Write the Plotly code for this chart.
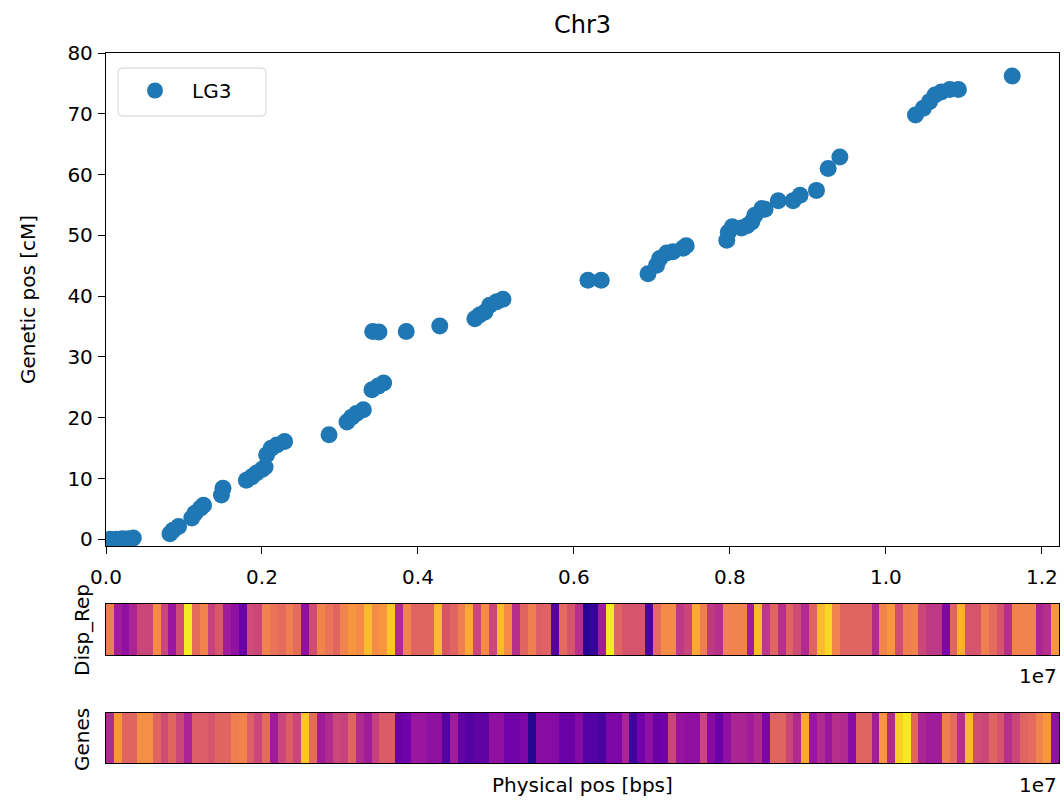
import plotly.graph_objects as go

# ---------------- data ----------------
chrom_length = 1.222e7  # bp, right end of the physical axis

lg3_phys_e7 = [0.005, 0.013, 0.021, 0.029, 0.035,
               0.082, 0.086, 0.093,
               0.110, 0.114, 0.121, 0.125,
               0.148, 0.150,
               0.180, 0.187, 0.193, 0.200, 0.204, 0.206, 0.212, 0.219, 0.229,
               0.286,
               0.309, 0.315, 0.321, 0.330,
               0.341, 0.349, 0.356,
               0.342, 0.350, 0.385,
               0.428,
               0.473, 0.479, 0.486, 0.492, 0.501, 0.509,
               0.618, 0.635,
               0.695, 0.706, 0.710, 0.719, 0.727, 0.740, 0.744,
               0.796, 0.798, 0.803, 0.815, 0.822, 0.828, 0.832, 0.841, 0.845,
               0.862, 0.881, 0.890, 0.911, 0.926, 0.941,
               1.038, 1.048, 1.056, 1.063, 1.071, 1.082, 1.093,
               1.162]
lg3_gen_cm = [0.0, 0.0, 0.1, 0.1, 0.2,
              0.9, 1.5, 2.1,
              3.5, 4.3, 5.1, 5.6,
              7.3, 8.4,
              9.7, 10.3, 10.9, 11.5, 11.9, 13.9, 15.0, 15.5, 16.1,
              17.2,
              19.3, 20.1, 20.7, 21.3,
              24.6, 25.2, 25.7,
              34.2, 34.1, 34.2,
              35.1,
              36.3, 36.9, 37.4, 38.5, 39.1, 39.5,
              42.6, 42.6,
              43.7, 45.1, 46.2, 47.1, 47.3, 47.9, 48.3,
              49.2, 50.5, 51.4, 51.2, 51.6, 52.2, 53.3, 54.4, 54.3,
              55.7, 55.7, 56.6, 57.4, 61.0, 62.9,
              69.8, 70.9, 72.0, 73.1, 73.6, 74.0, 74.0,
              76.2]

disp_rep = [0.68, 0.35, 0.30, 0.38, 0.50, 0.50, 0.72, 0.50, 0.33, 0.52,
            0.97, 0.62, 0.70, 0.48, 0.56, 0.35, 0.30, 0.20, 0.52, 0.50,
            0.70, 0.65, 0.62, 0.68, 0.62, 0.30, 0.52, 0.70, 0.65, 0.60,
            0.70, 0.75, 0.72, 0.85, 0.72, 0.75, 0.88, 0.40, 0.70, 0.60,
            0.60,
            0.60, 0.85, 0.55, 0.60, 0.68, 0.80, 0.50, 0.72, 0.50, 0.85,
            0.72, 0.42, 0.60, 0.68, 0.58, 0.60, 0.15, 0.62, 0.55, 0.42,
            0.05, 0.08, 0.35, 0.97, 0.60, 0.55, 0.55, 0.55, 0.12, 0.62,
            0.72, 0.72, 0.45, 0.50, 0.80, 0.68, 0.45, 0.42, 0.70, 0.70,
            0.70,
            0.35, 0.85, 0.45, 0.60, 0.42, 0.60, 0.52, 0.40, 0.60, 0.85,
            0.92, 0.70, 0.60, 0.60, 0.60, 0.60, 0.40, 0.70, 0.75, 0.52,
            0.68, 0.70, 0.50, 0.45, 0.45, 0.25, 0.60, 0.82, 0.55, 0.55,
            0.68, 0.62, 0.55, 0.42, 0.70, 0.70, 0.70, 0.38, 0.42, 0.75]

genes = [0.40, 0.75, 0.60, 0.60, 0.73, 0.73, 0.60, 0.52, 0.60, 0.50,
         0.38, 0.58, 0.58, 0.55, 0.60, 0.60, 0.68, 0.70, 0.58, 0.50,
         0.62, 0.35, 0.50, 0.58, 0.50, 0.88, 0.62, 0.35, 0.40, 0.50,
         0.48, 0.60, 0.40, 0.35, 0.48, 0.57, 0.57, 0.20, 0.22, 0.33,
         0.33,
         0.30, 0.30, 0.15, 0.35, 0.18, 0.15, 0.18, 0.18, 0.30, 0.30,
         0.22, 0.22, 0.25, 0.05, 0.28, 0.28, 0.28, 0.20, 0.20, 0.27,
         0.15, 0.15, 0.12, 0.25, 0.25, 0.38, 0.10, 0.22, 0.30, 0.20,
         0.22, 0.50, 0.32, 0.30, 0.30, 0.50, 0.28, 0.20, 0.30, 0.38,
         0.38,
         0.35, 0.40, 0.25, 0.60, 0.60, 0.50, 0.40, 0.80, 0.33, 0.40,
         0.33, 0.42, 0.40, 0.28, 0.60, 0.60, 0.35, 0.75, 0.40, 0.90,
         0.97, 0.60, 0.38, 0.35, 0.35, 0.68, 0.62, 0.42, 0.85, 0.52,
         0.50, 0.60, 0.55, 0.42, 0.50, 0.60, 0.62, 0.70, 0.75, 0.30]

x_tick_values_e7 = [0.0, 0.2, 0.4, 0.6, 0.8, 1.0, 1.2]
x_tick_labels = ["0.0", "0.2", "0.4", "0.6", "0.8", "1.0", "1.2"]
y_tick_values = [0, 10, 20, 30, 40, 50, 60, 70, 80]

# ---------------- figure ----------------
W, H = 1064, 805
FONT = "DejaVu Sans"
BLUE = "#1f77b4"


def px_x(p):
    return p / W


def px_y(p):
    return 1 - p / H


fig = go.Figure()

fig.add_trace(go.Scatter(
    x=[v * 1e7 for v in lg3_phys_e7], y=lg3_gen_cm, mode="markers",
    name="LG3", marker=dict(color=BLUE, size=17, line=dict(width=0)),
    xaxis="x", yaxis="y"))

bin_size = chrom_length / len(disp_rep)
fig.add_trace(go.Heatmap(
    z=[disp_rep], x0=bin_size / 2, dx=bin_size, y=[0],
    colorscale="Plasma", zmin=0, zmax=1, showscale=False,
    xaxis="x2", yaxis="y2"))

bin_size_g = chrom_length / len(genes)
fig.add_trace(go.Heatmap(
    z=[genes], x0=bin_size_g / 2, dx=bin_size_g, y=[0],
    colorscale="Plasma", zmin=0, zmax=1, showscale=False,
    xaxis="x3", yaxis="y3"))

xdom = [px_x(106), px_x(1059)]
frame = dict(showline=True, mirror=True, linecolor="black", linewidth=1.3,
             showgrid=False, zeroline=False, automargin=False)
tickfont = dict(family=FONT, size=20, color="black")

# legend frame (matplotlib style rounded box) in paper pixels
lx0, ly0, lx1, ly1, r = 118, 68, 266, 116, 5
legend_box = (f"M {px_x(lx0 + r)} {px_y(ly0)} L {px_x(lx1 - r)} {px_y(ly0)} "
              f"Q {px_x(lx1)} {px_y(ly0)} {px_x(lx1)} {px_y(ly0 + r)} "
              f"L {px_x(lx1)} {px_y(ly1 - r)} Q {px_x(lx1)} {px_y(ly1)} {px_x(lx1 - r)} {px_y(ly1)} "
              f"L {px_x(lx0 + r)} {px_y(ly1)} Q {px_x(lx0)} {px_y(ly1)} {px_x(lx0)} {px_y(ly1 - r)} "
              f"L {px_x(lx0)} {px_y(ly0 + r)} Q {px_x(lx0)} {px_y(ly0)} {px_x(lx0 + r)} {px_y(ly0)} Z")

fig.update_layout(
    width=W, height=H,
    margin=dict(l=0, r=0, t=0, b=0, autoexpand=False),
    paper_bgcolor="white", plot_bgcolor="white",
    font=dict(family=FONT, size=20, color="black"),
    showlegend=True,
    legend=dict(x=px_x(118), y=px_y(71), xanchor="left", yanchor="top",
                bgcolor="rgba(0,0,0,0)", borderwidth=0,
                font=dict(family=FONT, size=20, color="black"),
                itemwidth=64, tracegroupgap=0),
    shapes=[dict(type="path", path=legend_box, xref="paper", yref="paper",
                 fillcolor="rgba(255,255,255,0.8)", line=dict(color="#d0d0d0", width=1),
                 layer="above")],
    xaxis=dict(domain=xdom, range=[0, chrom_length], anchor="y",
               tickvals=[v * 1e7 for v in x_tick_values_e7], ticktext=x_tick_labels,
               ticks="outside", ticklen=7, tickwidth=1.2, tickcolor="black",
               tickfont=tickfont, ticklabelstandoff=6, **frame),
    yaxis=dict(domain=[px_y(546), px_y(53)], range=[-1.1, 80], anchor="x",
               tickvals=y_tick_values, ticks="outside", ticklen=7, tickwidth=1.2,
               tickcolor="black", tickfont=tickfont, ticklabelstandoff=1, **frame),
    xaxis2=dict(domain=xdom, range=[0, chrom_length], anchor="y2",
                showticklabels=False, ticks="", **frame),
    yaxis2=dict(domain=[px_y(655), px_y(604)], range=[-0.5, 0.5], anchor="x2",
                showticklabels=False, ticks="", **frame),
    xaxis3=dict(domain=xdom, range=[0, chrom_length], anchor="y3",
                showticklabels=False, ticks="", **frame),
    yaxis3=dict(domain=[px_y(763), px_y(713)], range=[-0.5, 0.5], anchor="x3",
                showticklabels=False, ticks="", **frame),
)

ann_font = dict(family=FONT, size=20, color="black")
annotations = [
    dict(text="Chr3", x=px_x(582.5), y=px_y(25), font=dict(family=FONT, size=24, color="black"),
         xanchor="center", yanchor="middle"),
    dict(text="Genetic pos [cM]", x=px_x(28), y=px_y(300), textangle=-90, font=ann_font,
         xanchor="center", yanchor="middle"),
    dict(text="Disp_Rep", x=px_x(82), y=px_y(630), textangle=-90, font=ann_font,
         xanchor="center", yanchor="middle"),
    dict(text="Genes", x=px_x(82), y=px_y(740), textangle=-90, font=ann_font,
         xanchor="center", yanchor="middle"),
    dict(text="1e7", x=px_x(1059), y=px_y(676), font=ann_font,
         xanchor="right", yanchor="middle"),
    dict(text="1e7", x=px_x(1059), y=px_y(785), font=ann_font,
         xanchor="right", yanchor="middle"),
    dict(text="Physical pos [bps]", x=px_x(582.5), y=px_y(785), font=ann_font,
         xanchor="center", yanchor="middle"),
]
for a in annotations:
    a.update(xref="paper", yref="paper", showarrow=False)
fig.update_layout(annotations=annotations)

fig.write_html("out.html")
